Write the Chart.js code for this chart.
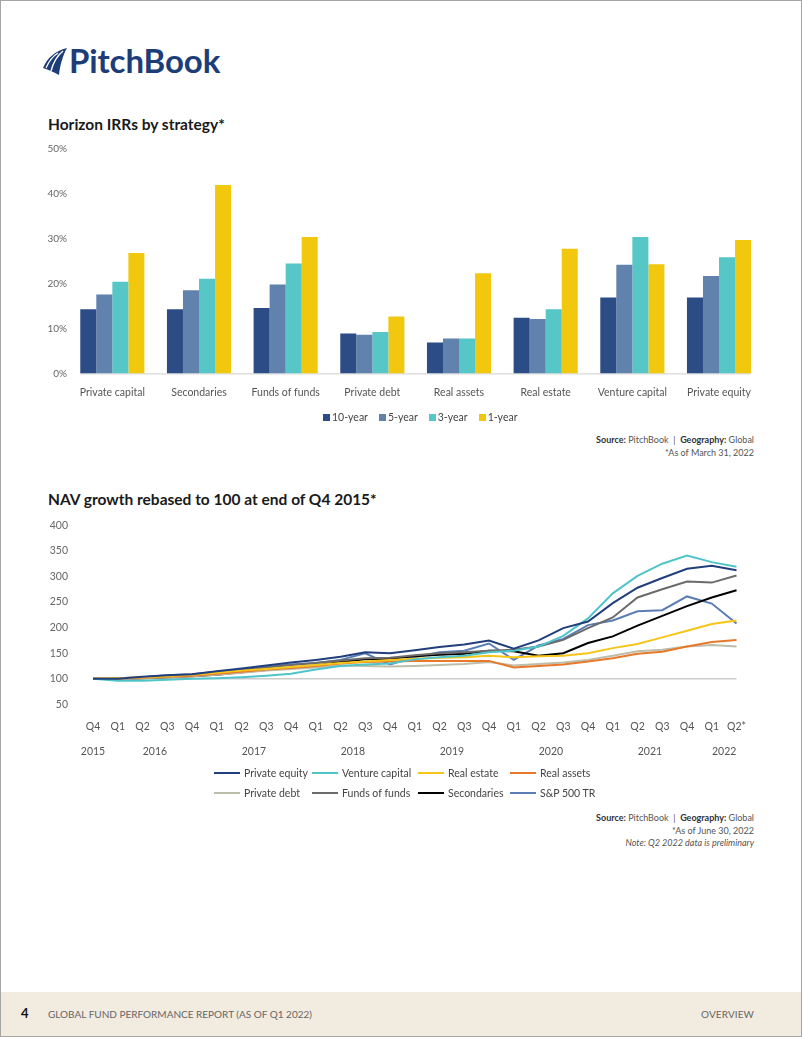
<!DOCTYPE html>
<html>
<head>
<meta charset="utf-8">
<script src="https://cdn.jsdelivr.net/npm/chart.js@4.4.0/dist/chart.umd.min.js"></script>
<style>
  body { margin: 0; background: #fff; font-family: Lato, "Open Sans", sans-serif; }
  #page { position: relative; width: 802px; height: 1037px; overflow: hidden; background: #fff; }
  #frame { position: absolute; left: 0; top: 0; width: 802px; height: 1037px; box-sizing: border-box; border: 1px solid #a5a5a5; pointer-events: none; z-index: 5; }
  .logo { position: absolute; left: 42px; top: 40px; height: 40px; }
  .logo svg { position: absolute; left: 0; top: 7px; }
  .logo span { position: absolute; left: 27px; top: 0; font-size: 33px; font-weight: 700; color: #1d3d78; letter-spacing: -0.1px; white-space: nowrap; }
  .title { position: absolute; left: 48px; font-size: 15.5px; font-weight: 700; color: #1a1a1a; white-space: nowrap; }
  .src { position: absolute; right: 48px; text-align: right; font-size: 9px; color: #555; line-height: 12.5px; }
  .src b { color: #333; }
  .box { position: absolute; }
  #irrLegend { position: absolute; left: 323px; top: 411px; display: flex; gap: 11px; }
  .lb { font-size: 10.5px; color: #444; white-space: nowrap; }
  .lb i { display: inline-block; width: 7px; height: 7px; margin-right: 2px; }
  #navLegend { position: absolute; left: 0; top: 0; width: 802px; height: 0; }
  .li { position: absolute; font-size: 10.5px; color: #444; white-space: nowrap; }
  .li i { display: inline-block; width: 26px; height: 2px; vertical-align: middle; margin-right: 4px; position: relative; top: -1px; }
  #footer { position: absolute; left: 0; top: 992px; width: 802px; height: 45px; background: #f2ebe0; }
  #footer .pg { position: absolute; left: 21px; top: 13px; font-size: 13px; font-weight: 700; color: #111; }
  #footer .rt { position: absolute; left: 48px; top: 16px; font-size: 10px; color: #666; }
  #footer .ov { position: absolute; right: 48px; top: 16px; font-size: 10px; color: #666; letter-spacing: 0.1px; }
</style>
</head>
<body>
<div id="page">
  <div id="frame"></div>

  <div class="logo">
    <svg width="26" height="30" viewBox="0 0 26 30">
      <path d="M1 21 C5 11 13 4 25 1 C21 8 18 18 17 28 C12 25 7 23 1 21 Z" fill="#1d3d78"/>
      <path d="M9 24 C11 16 15 9 21 4" stroke="#fff" stroke-width="1.4" fill="none"/>
      <path d="M4 21 C7 14 11 9 16 6" stroke="#fff" stroke-width="1.2" fill="none"/>
    </svg>
    <span>PitchBook</span>
  </div>

  <div class="title" style="top:115px">Horizon IRRs by strategy*</div>
  <div class="box" style="left:40px; top:141px; width:724px; height:271px;"><canvas id="irrChart"></canvas></div>
  <div id="irrLegend"></div>
  <div class="src" style="top:434px"><b>Source:</b> PitchBook&nbsp; |&nbsp; <b>Geography:</b> Global<br>*As of March 31, 2022</div>

  <div class="title" style="top:490px">NAV growth rebased to 100 at end of Q4 2015*</div>
  <div class="box" style="left:40px; top:494px; width:722px; height:283px;"><canvas id="navChart"></canvas></div>
  <div id="navLegend"></div>
  <div class="src" style="top:812px"><b>Source:</b> PitchBook&nbsp; |&nbsp; <b>Geography:</b> Global<br>*As of June 30, 2022<br><i>Note: Q2 2022 data is preliminary</i></div>

  <div id="footer">
    <div class="pg">4</div>
    <div class="rt">GLOBAL FUND PERFORMANCE REPORT (AS OF Q1 2022)</div>
    <div class="ov">OVERVIEW</div>
  </div>
</div>

<script>
// ---- Horizon IRRs data (%)
const strategies = ["Private capital", "Secondaries", "Funds of funds", "Private debt", "Real assets", "Real estate", "Venture capital", "Private equity"];
const irr10yr = [14.3, 14.3, 14.6, 8.9, 6.9, 12.4, 16.9, 16.9];
const irr5yr = [17.6, 18.5, 19.8, 8.6, 7.8, 12.1, 24.2, 21.7];
const irr3yr = [20.4, 21.1, 24.5, 9.2, 7.8, 14.3, 30.4, 25.9];
const irr1yr = [26.8, 42.0, 30.4, 12.7, 22.3, 27.8, 24.3, 29.7];
const horizonNames = ["10-year", "5-year", "3-year", "1-year"];
const horizonColors = ["#2b4c85", "#6082ad", "#56c6c6", "#f2c80f"];

// ---- NAV growth data (rebased to 100)
const quarterLabels = ["Q4", "Q1", "Q2", "Q3", "Q4", "Q1", "Q2", "Q3", "Q4", "Q1", "Q2", "Q3", "Q4", "Q1", "Q2", "Q3", "Q4", "Q1", "Q2", "Q3", "Q4", "Q1", "Q2", "Q3", "Q4", "Q1", "Q2*"];
const quarterYears = [2015, 2016, 2016, 2016, 2016, 2017, 2017, 2017, 2017, 2018, 2018, 2018, 2018, 2019, 2019, 2019, 2019, 2020, 2020, 2020, 2020, 2021, 2021, 2021, 2021, 2022, 2022];
const navPrivateEquity = [100, 100, 104, 107, 109, 115, 120, 126, 132, 137, 143, 152, 150, 156, 162, 167, 175, 159, 175, 199, 212, 248, 278, 297, 315, 321, 312];
const navVentureCapital = [100, 96, 96, 98, 100, 101, 103, 106, 110, 118, 125, 128, 130, 138, 142, 145, 152, 155, 163, 184, 218, 267, 301, 325, 341, 328, 319];
const navRealEstate = [100, 101, 103, 105, 108, 112, 116, 119, 123, 127, 131, 134, 137, 139, 141, 142, 145, 142, 144, 145, 150, 160, 168, 181, 194, 207, 214];
const navRealAssets = [100, 100, 102, 104, 106, 110, 114, 118, 121, 125, 130, 133, 134, 135, 135, 135, 135, 122, 125, 128, 134, 140, 149, 153, 163, 172, 176];
const navPrivateDebt = [100, 99, 101, 103, 105, 108, 112, 116, 119, 122, 126, 125, 124, 125, 127, 129, 133, 126, 129, 132, 137, 145, 154, 157, 163, 166, 163];
const navFundsOfFunds = [100, 99, 102, 105, 107, 112, 117, 122, 127, 131, 136, 140, 141, 146, 150, 152, 155, 157, 163, 176, 199, 220, 259, 275, 290, 288, 302];
const navSecondaries = [100, 99, 101, 103, 105, 108, 113, 117, 121, 126, 133, 138, 139, 144, 147, 149, 155, 154, 145, 150, 170, 183, 204, 223, 242, 259, 273];
const navSP500 = [100, 101, 103, 107, 109, 114, 118, 124, 128, 131, 137, 150, 128, 142, 152, 155, 169, 137, 165, 178, 205, 214, 232, 234, 261, 247, 208];
const navNames = ["Private equity", "Venture capital", "Real estate", "Real assets", "Private debt", "Funds of funds", "Secondaries", "S&P 500 TR"];
const navColors = ["#223f7d", "#4fc5c9", "#f5c518", "#e8792b", "#bdbdab", "#6b6b6b", "#000000", "#5a7db5"];

Chart.defaults.font.family = "Lato, 'Open Sans', sans-serif";
Chart.defaults.animation = false;

// baseline under the bars, from first bar to last bar (like the original)
const barBaseline = {
  id: "barBaseline",
  beforeDatasetsDraw(chart) {
    const first = chart.getDatasetMeta(0).data[0];
    const lastMeta = chart.getDatasetMeta(chart.data.datasets.length - 1).data;
    const last = lastMeta[lastMeta.length - 1];
    const y = chart.scales.y.getPixelForValue(0);
    const ctx = chart.ctx;
    ctx.save();
    ctx.strokeStyle = "#cfcfcf";
    ctx.lineWidth = 1;
    ctx.beginPath();
    ctx.moveTo(first.x - first.width / 2, y + 0.5);
    ctx.lineTo(last.x + last.width / 2, y + 0.5);
    ctx.stroke();
    ctx.restore();
  }
};

const irrSeries = [irr10yr, irr5yr, irr3yr, irr1yr];
const irrChart = new Chart(document.getElementById("irrChart"), {
  type: "bar",
  data: {
    labels: strategies,
    datasets: irrSeries.map((values, i) => ({
      label: horizonNames[i],
      data: values,
      backgroundColor: horizonColors[i],
      borderWidth: 0,
      categoryPercentage: 0.74,
      barPercentage: 1.0,
    })),
  },
  options: {
    responsive: true,
    maintainAspectRatio: false,
    layout: { padding: { top: 2, right: 0 } },
    plugins: {
      tooltip: { enabled: false },
      legend: { display: false },
    },
    scales: {
      x: {
        grid: { display: false, drawTicks: false },
        border: { display: false },
        ticks: { color: "#555", font: { size: 10.5 }, padding: 13 },
      },
      y: {
        min: 0,
        max: 50,
        afterFit: (scale) => { scale.width = 29; },
        grid: { display: false, drawTicks: false },
        border: { display: false },
        ticks: { stepSize: 10, padding: 2, color: "#666", font: { size: 10 }, callback: (v) => v + "%" },
      },
    },
  },
  plugins: [barBaseline],
});

// html legend for the bar chart
const irrLegend = document.getElementById("irrLegend");
irrChart.data.datasets.forEach((ds) => {
  const el = document.createElement("div");
  el.className = "lb";
  el.innerHTML = '<i style="background:' + ds.backgroundColor + '"></i>';
  el.appendChild(document.createTextNode(ds.label));
  irrLegend.appendChild(el);
});

// year row under the quarter labels
const yearRow = {
  id: "yearRow",
  afterDraw(chart) {
    const xs = chart.scales.x;
    const ctx = chart.ctx;
    const groups = {};
    quarterYears.forEach((yr, i) => {
      (groups[yr] = groups[yr] || []).push(i);
    });
    ctx.save();
    ctx.fillStyle = "#555";
    ctx.font = "10.5px Lato, 'Open Sans', sans-serif";
    ctx.textAlign = "center";
    ctx.textBaseline = "middle";
    Object.keys(groups).forEach((yr) => {
      const idx = groups[yr];
      const mid = (idx[0] + idx[idx.length - 1]) / 2;
      ctx.fillText(yr, xs.getPixelForValue(mid), chart.chartArea.bottom + 47);
    });
    ctx.restore();
  }
};

const navSeries = [navPrivateEquity, navVentureCapital, navRealEstate, navRealAssets, navPrivateDebt, navFundsOfFunds, navSecondaries, navSP500];
const navChart = new Chart(document.getElementById("navChart"), {
  type: "line",
  data: {
    labels: quarterLabels,
    datasets: navSeries.map((values, i) => ({
      label: navNames[i],
      data: values,
      borderColor: navColors[i],
      backgroundColor: navColors[i],
      borderWidth: 2,
      pointRadius: 0,
      tension: 0,
      fill: false,
    })),
  },
  options: {
    responsive: true,
    maintainAspectRatio: false,
    layout: { padding: { top: 2, right: 13, bottom: 28 } },
    plugins: {
      tooltip: { enabled: false },
      legend: { display: false },
    },
    scales: {
      x: {
        grid: { display: false, drawTicks: false },
        border: { display: false },
        ticks: { color: "#555", font: { size: 10.5 }, padding: 16, maxRotation: 0, autoSkip: false },
      },
      y: {
        min: 50,
        max: 400,
        afterFit: (scale) => { scale.width = 53; },
        grid: {
          drawTicks: false,
          lineWidth: 1.5,
          color: (ctx) => (ctx.tick && ctx.tick.value === 100 ? "#cccccc" : "rgba(0,0,0,0)"),
        },
        border: { display: false },
        ticks: { stepSize: 50, padding: 25, color: "#666", font: { size: 10.5 } },
      },
    },
  },
  plugins: [yearRow],
});

// legend for the NAV chart, laid out in a 4-column grid like the original
const legendCols = [214, 312, 418, 510];
const legendRows = [775, 795];
const legendBox = document.getElementById("navLegend");
navChart.data.datasets.forEach((ds, i) => {
  const el = document.createElement("div");
  el.className = "li";
  el.style.left = legendCols[i % 4] + "px";
  el.style.top = (legendRows[Math.floor(i / 4)] - 8) + "px";
  el.innerHTML = '<i style="background:' + ds.borderColor + '"></i>';
  el.appendChild(document.createTextNode(ds.label));
  legendBox.appendChild(el);
});
</script>
</body>
</html>
